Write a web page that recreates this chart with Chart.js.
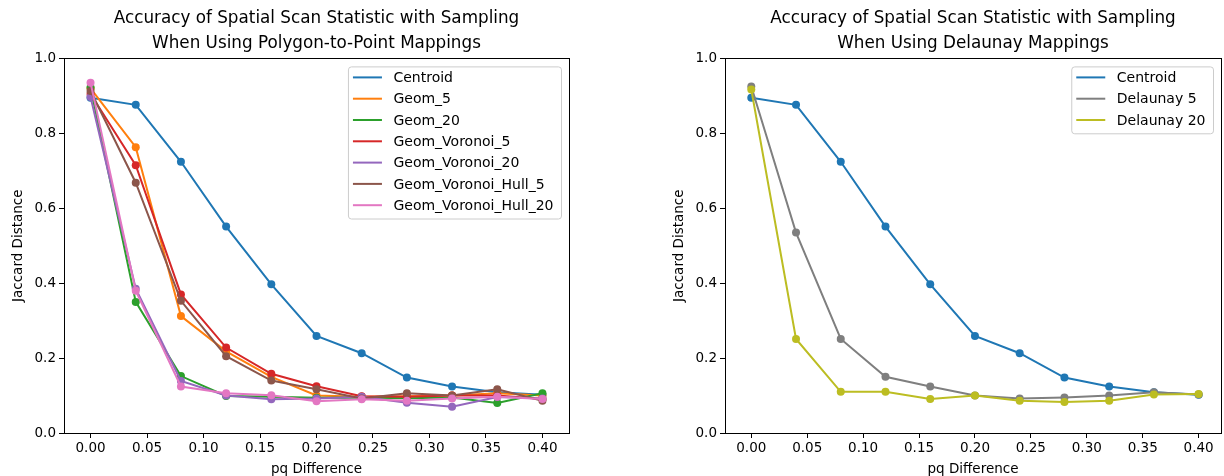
<!DOCTYPE html>
<html>
<head>
<meta charset="utf-8">
<script src="https://cdn.jsdelivr.net/npm/chart.js@4"></script>
<style>
  html, body { margin: 0; padding: 0; background: #fff; overflow: hidden; width: 1224px; height: 476px; }
  .box { position: absolute; top: 0; }
</style>
</head>
<body>
<div class="box" style="left:0px; width:580px; height:490px;"><canvas id="left"></canvas></div>
<div class="box" style="left:661px; width:564px; height:490px;"><canvas id="right"></canvas></div>
<script>
// pq difference values sampled
var pqDiff = [0.00, 0.04, 0.08, 0.12, 0.16, 0.20, 0.24, 0.28, 0.32, 0.36, 0.40];
var xTicks = [0.00, 0.05, 0.10, 0.15, 0.20, 0.25, 0.30, 0.35, 0.40];
var yTicks = [0.0, 0.2, 0.4, 0.6, 0.8, 1.0];

// jaccard distance per mapping
var centroid   = [0.895, 0.876, 0.724, 0.551, 0.397, 0.259, 0.213, 0.148, 0.124, 0.109, 0.102];
var geom5      = [0.920, 0.763, 0.312, 0.218, 0.150, 0.100, 0.097, 0.098, 0.100, 0.106, 0.100];
var geom20     = [0.922, 0.350, 0.152, 0.099, 0.097, 0.094, 0.095, 0.093, 0.095, 0.080, 0.106];
var voronoi5   = [0.905, 0.715, 0.370, 0.228, 0.158, 0.125, 0.098, 0.097, 0.100, 0.100, 0.091];
var voronoi20  = [0.897, 0.385, 0.139, 0.100, 0.090, 0.092, 0.097, 0.081, 0.070, 0.096, 0.092];
var hull5      = [0.913, 0.668, 0.353, 0.205, 0.140, 0.117, 0.092, 0.106, 0.100, 0.117, 0.086];
var hull20     = [0.935, 0.380, 0.124, 0.106, 0.101, 0.085, 0.090, 0.086, 0.092, 0.097, 0.091];
var delaunay5  = [0.925, 0.535, 0.251, 0.150, 0.124, 0.100, 0.092, 0.095, 0.100, 0.109, 0.103];
var delaunay20 = [0.917, 0.251, 0.110, 0.110, 0.091, 0.100, 0.086, 0.083, 0.086, 0.103, 0.104];

var FONT = 'DejaVu Sans';

function series(label, values, color, i) {
  return {
    label: label,
    data: values.map(function(v, j) { return {x: pqDiff[j], y: v}; }),
    borderColor: color,
    backgroundColor: color,
    borderWidth: 2,
    pointRadius: 4,
    pointHoverRadius: 4,
    pointBorderWidth: 0,
    pointBackgroundColor: color,
    tension: 0,
    order: -i  // later series on top
  };
}

// box around the plot area
var frame = {
  id: 'frame',
  afterDraw: function(chart) {
    var a = chart.chartArea, c = chart.ctx;
    c.save();
    c.strokeStyle = '#000';
    c.lineWidth = 1;
    c.strokeRect(Math.round(a.left) + 0.5, Math.round(a.top) + 0.5,
                 Math.round(a.right - a.left), Math.round(a.bottom - a.top));
    c.restore();
  }
};

// legend box in the upper right corner
var innerLegend = {
  id: 'innerLegend',
  afterDraw: function(chart) {
    var c = chart.ctx, a = chart.chartArea;
    var sets = chart.data.datasets;
    c.save();
    c.font = '14px "' + FONT + '"';
    var w = 0;
    sets.forEach(function(d) { w = Math.max(w, c.measureText(d.label).width); });
    var rowH = 21.3;
    var boxW = w + 53, boxH = sets.length * rowH + 3;
    var x0 = a.right - 7.5 - boxW, y0 = a.top + 8.5;
    c.beginPath();
    c.roundRect(x0, y0, boxW, boxH, 3);
    c.fillStyle = 'rgba(255,255,255,0.8)';
    c.fill();
    c.strokeStyle = '#cccccc';
    c.lineWidth = 1;
    c.stroke();
    c.textBaseline = 'middle';
    sets.forEach(function(d, i) {
      var y = y0 + 10.5 + i * rowH;
      c.strokeStyle = d.borderColor;
      c.lineWidth = 2;
      c.beginPath();
      c.moveTo(x0 + 4.5, y);
      c.lineTo(x0 + 33.5, y);
      c.stroke();
      c.fillStyle = '#000';
      c.fillText(d.label, x0 + 45, y + 1);
    });
    c.restore();
  }
};

function makeChart(id, titleLines, datasets, xMax) {
  return new Chart(document.getElementById(id), {
    type: 'line',
    data: { datasets: datasets },
    plugins: [frame, innerLegend],
    options: {
      responsive: true,
      maintainAspectRatio: false,
      animation: false,
      layout: { padding: { left: 0, right: id === 'left' ? 11 : 0, top: 0, bottom: 0 } },
      plugins: {
        legend: { display: false },
        tooltip: { enabled: false },
        title: {
          display: true,
          fullSize: false,
          text: titleLines,
          color: '#000',
          font: { family: FONT, size: 16.8, weight: 'normal', lineHeight: 1.5 },
          padding: { top: 6, bottom: 2 }
        }
      },
      scales: {
        x: {
          type: 'linear',
          min: -0.0235,
          max: xMax,
          afterBuildTicks: function(s) { s.ticks = xTicks.map(function(v) { return {value: v}; }); },
          afterFit: function(s) { s.height = 57; },
          ticks: {
            color: '#000',
            font: { family: FONT, size: 13.5 },
            padding: 2,
            maxRotation: 0,
            autoSkip: false,
            callback: function(v) { return v.toFixed(2); }
          },
          grid: { drawOnChartArea: false, drawTicks: true, tickLength: 5, color: '#000', tickColor: '#000' },
          border: { display: false },
          title: {
            display: true,
            text: 'pq Difference',
            color: '#000',
            font: { family: FONT, size: 13.5 },
            padding: { top: 0, bottom: 12 }
          }
        },
        y: {
          min: 0,
          max: 1,
          afterBuildTicks: function(s) { s.ticks = yTicks.map(function(v) { return {value: v}; }); },
          afterFit: function(s) { s.width = 64; },
          ticks: {
            color: '#000',
            font: { family: FONT, size: 13.5 },
            padding: 3,
            callback: function(v) { return v.toFixed(1); }
          },
          grid: { drawOnChartArea: false, drawTicks: true, tickLength: 5, color: '#000', tickColor: '#000' },
          border: { display: false },
          title: {
            display: true,
            text: 'Jaccard Distance',
            color: '#000',
            font: { family: FONT, size: 13.5 },
            padding: { top: 10, bottom: 0 }
          }
        }
      }
    }
  });
}

makeChart('left',
  ['Accuracy of Spatial Scan Statistic with Sampling', 'When Using Polygon-to-Point Mappings'],
  [
    series('Centroid', centroid, '#1f77b4', 0),
    series('Geom_5', geom5, '#ff7f0e', 1),
    series('Geom_20', geom20, '#2ca02c', 2),
    series('Geom_Voronoi_5', voronoi5, '#d62728', 3),
    series('Geom_Voronoi_20', voronoi20, '#9467bd', 4),
    series('Geom_Voronoi_Hull_5', hull5, '#8c564b', 5),
    series('Geom_Voronoi_Hull_20', hull20, '#e377c2', 6)
  ], 0.4235);

makeChart('right',
  ['Accuracy of Spatial Scan Statistic with Sampling', 'When Using Delaunay Mappings'],
  [
    series('Centroid', centroid, '#1f77b4', 0),
    series('Delaunay 5', delaunay5, '#7f7f7f', 1),
    series('Delaunay 20', delaunay20, '#bcbd22', 2)
  ], 0.42);
</script>
</body>
</html>
